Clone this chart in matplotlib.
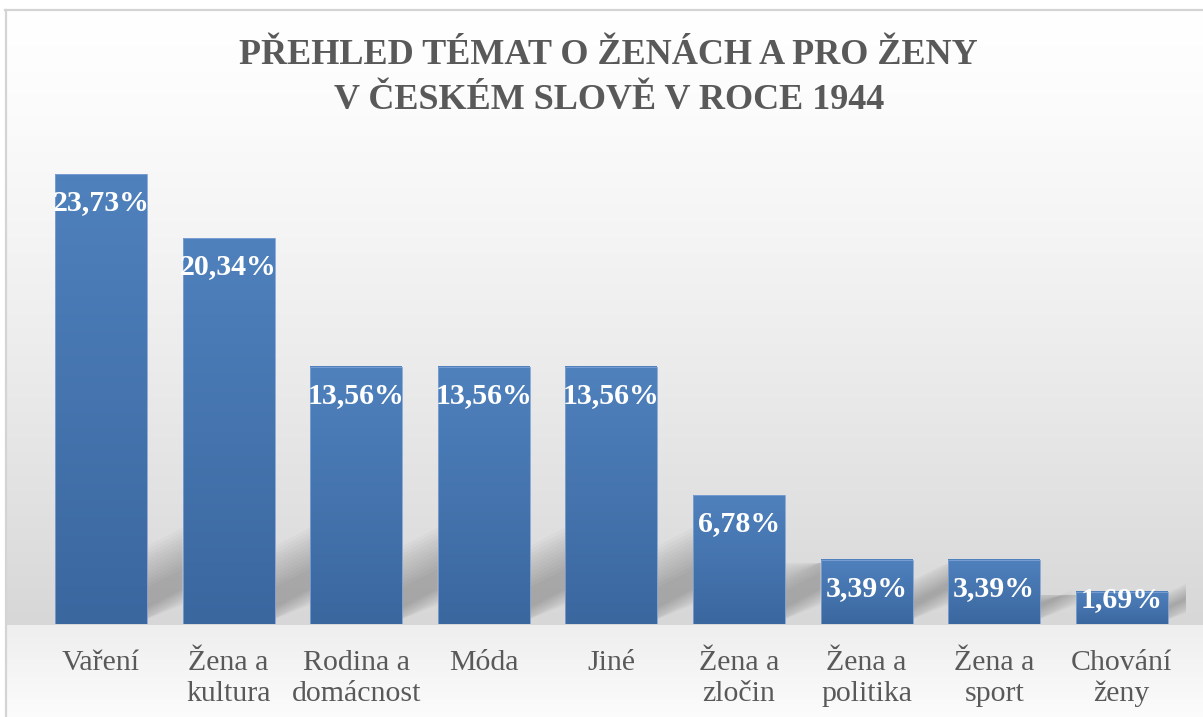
import numpy as np
import matplotlib
matplotlib.use("Agg")
import matplotlib.pyplot as plt
from matplotlib.lines import Line2D

categories = ["Vaření", "Žena a\nkultura", "Rodina a\ndomácnost", "Móda", "Jiné",
              "Žena a\nzločin", "Žena a\npolitika", "Žena a\nsport", "Chování\nženy"]
values = [23.73, 20.34, 13.56, 13.56, 13.56, 6.78, 3.39, 3.39, 1.69]
title = "PŘEHLED TÉMAT O ŽENÁCH A PRO ŽENY\nV ČESKÉM SLOVĚ V ROCE 1944"

SERIF = ["Liberation Serif", "DejaVu Serif"]
W, H = 1203, 717

fig = plt.figure(figsize=(W / 100, H / 100), dpi=100)
fig.patch.set_facecolor("white")

# background gradient (plot area darkens downwards, lighter band under the bars)
bg = fig.add_axes([0, 0, 1, 1], zorder=-5)
bg.set_xlim(0, 1)
bg.set_ylim(0, 1)
bg.axis("off")
rows = np.arange(H - 10)
base = 624 - 10
shade = np.where(rows <= base,
                 255 - 40 * (rows / base) ** 1.3,
                 238 + 14 * (rows - base) / (H - 10 - base)) / 255.0
grad = np.repeat(np.repeat(shade[:, None], 16, axis=1)[:, :, None], 3, axis=2)
bg.imshow(grad, extent=[6 / W, 1, 0, 1 - 10 / H], aspect="auto", interpolation="nearest")
fig.add_artist(Line2D([5 / W, 1], [1 - 10 / H, 1 - 10 / H], color="#d4d4d4", lw=1.6))
fig.add_artist(Line2D([6 / W, 6 / W], [0, 1 - 10 / H], color="#d4d4d4", lw=1.6))

ax = fig.add_axes([37.2 / W, (H - 624) / H, 1148.4 / W, 474 / H])
ax.patch.set_alpha(0)
for s in ax.spines.values():
    s.set_visible(False)

x = np.arange(len(values))
bw = 0.72
px_x = 1148.4 / len(values)   # pixels per x unit
px_y = 474 / 25               # pixels per y unit

# soft diagonal shadows rising to the right of each bar
for i, v in enumerate(values):
    x1 = x[i] + bw / 2
    t = min(55, 0.3 * v * px_y + 10)
    last = i == len(values) - 1
    run = 30 if last else (1 - bw) * px_x
    cap = 1e9 if last else values[i + 1] * px_y - 3
    n = 12
    for j in range(n):
        f = j / (n - 1)
        low = -6 + 16 * f
        top = t * (1.3 - 0.75 * f)
        y1 = max(low + 0.7 * run, 0)
        y2 = max(min(top + 0.7 * run, cap), y1)
        y3 = min(top, y2)
        xs = [x1 - 12 / px_x, x1 + run / px_x, x1 + run / px_x, x1 - 12 / px_x]
        ys = [max(low, 0), y1, y2, y3]
        ax.fill(xs, [y / px_y for y in ys], color="black", alpha=0.02, lw=0, zorder=1)

# bars with vertical gradient
bars = ax.bar(x, values, width=bw, color="none", edgecolor="#7fa2d6", lw=0.6, zorder=4)
top_c = np.array([0x4f, 0x81, 0xbd]) / 255
bot_c = np.array([0x3b, 0x67, 0x9f]) / 255
tt = np.linspace(0, 1, 64)[:, None]
bar_grad = (top_c * (1 - tt) + bot_c * tt)[:, None, :]
for b in bars:
    ax.imshow(bar_grad, extent=[b.get_x(), b.get_x() + b.get_width(), 0, b.get_height()],
              aspect="auto", zorder=3, interpolation="bilinear")

for xi, v in zip(x, values):
    ax.text(xi, max(v - 1.5, 1.27), f"{v:.2f}%".replace(".", ","), ha="center", va="center",
            color="white", fontsize=21.5, fontweight="bold", family=SERIF, zorder=5)

ax.set_xlim(-0.5, len(values) - 0.5)
ax.set_ylim(0, 25)
ax.set_yticks([])
ax.set_xticks(x)
ax.set_xticklabels(categories, family=SERIF, fontsize=21.5, color="#595959", linespacing=1.22)
ax.tick_params(axis="x", length=0, pad=19)

fig.text(0.506, 1 - 78 / H, title, ha="center", va="center", family=SERIF,
         fontsize=26, fontweight="bold", color="#595959", linespacing=1.46)

fig.savefig("out.png", dpi=100)
